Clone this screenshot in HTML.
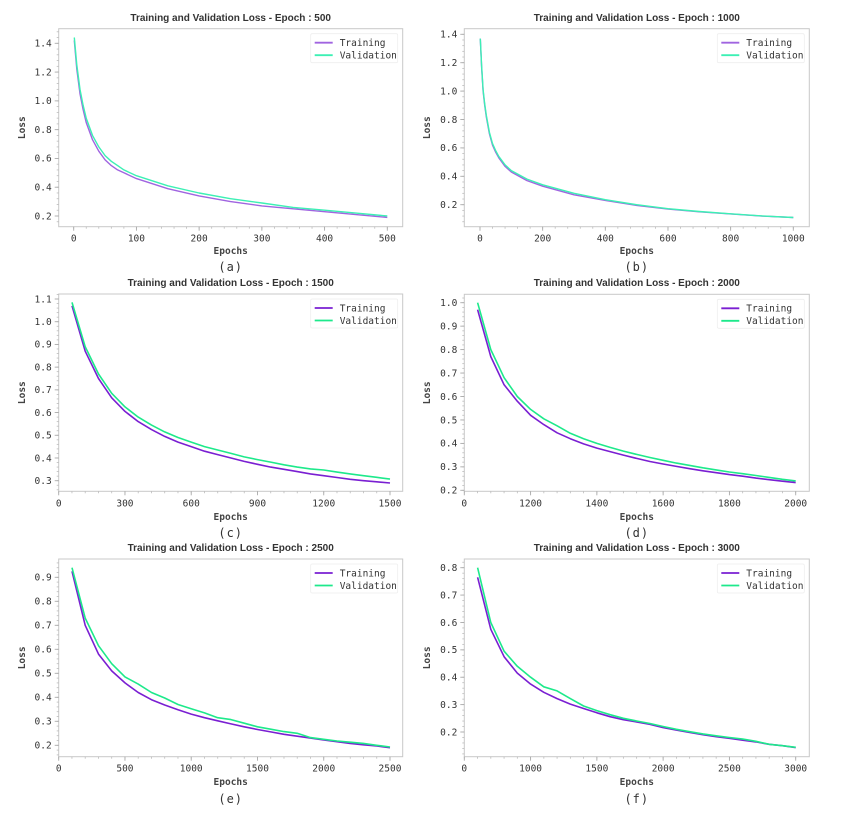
<!DOCTYPE html>
<html><head><meta charset="utf-8"><style>
html,body{margin:0;padding:0;background:#fff;}
svg{display:block;}
.tick{font-family:"DejaVu Sans Mono","Liberation Mono",monospace;font-size:9.5px;fill:#333;}
.title{font-family:"Liberation Sans",sans-serif;font-size:10px;font-weight:bold;fill:#333;}
.axl{font-family:"DejaVu Sans Mono","Liberation Mono",monospace;font-size:9.5px;font-weight:bold;fill:#444;}
.leg{font-family:"DejaVu Sans Mono","Liberation Mono",monospace;font-size:9.5px;fill:#333;}
.sub{font-family:"DejaVu Sans Mono","Liberation Mono",monospace;font-size:12px;fill:#333;letter-spacing:1px;}
</style></head><body>
<svg id="chart" width="846" height="816" viewBox="0 0 846 816"></svg>
<script>
// ---- data ----
const aEpochs=[1,5,10,15,20,30,40,50,60,70,80,100,150,200,250,300,350,400,450,500];
const aTrain=[1.42,1.22,1.05,0.94,0.85,0.73,0.65,0.59,0.55,0.52,0.50,0.46,0.39,0.34,0.30,0.27,0.25,0.23,0.21,0.19];
const aVal=[1.44,1.25,1.08,0.97,0.88,0.76,0.68,0.62,0.58,0.55,0.52,0.48,0.41,0.36,0.32,0.29,0.26,0.24,0.22,0.20];
const aXTicks=[0,100,200,300,400,500];
const aXLabels=["0","100","200","300","400","500"];
const aYTicks=[0.2,0.4,0.6,0.8,1.0,1.2,1.4];

const bEpochs=[1,5,10,15,20,30,40,50,60,80,100,150,200,300,400,500,600,700,800,900,1000];
const bTrain=[1.37,1.17,1.0,0.9,0.82,0.70,0.62,0.57,0.53,0.47,0.43,0.37,0.33,0.27,0.23,0.195,0.17,0.15,0.135,0.12,0.11];
const bVal=[1.37,1.18,1.01,0.91,0.83,0.71,0.63,0.58,0.54,0.48,0.44,0.38,0.34,0.28,0.235,0.2,0.172,0.152,0.136,0.121,0.11];
const bXTicks=[0,200,400,600,800,1000];
const bXLabels=["0","200","400","600","800","1000"];
const bYTicks=[0.2,0.4,0.6,0.8,1.0,1.2,1.4];

const cEpochs=[60,120,180,240,300,360,420,480,540,600,660,720,780,840,900,960,1020,1080,1140,1200,1260,1320,1380,1440,1500];
const cTrain=[1.07,0.87,0.75,0.665,0.605,0.56,0.525,0.495,0.47,0.45,0.43,0.415,0.40,0.385,0.372,0.36,0.35,0.34,0.33,0.322,0.314,0.306,0.30,0.295,0.29];
const cVal=[1.085,0.89,0.77,0.685,0.625,0.58,0.545,0.515,0.49,0.47,0.45,0.435,0.42,0.405,0.393,0.382,0.37,0.36,0.352,0.347,0.338,0.33,0.322,0.315,0.307];
const cXTicks=[0,300,600,900,1200,1500];
const cXLabels=["0","300","600","900","1200","1500"];
const cYTicks=[0.3,0.4,0.5,0.6,0.7,0.8,0.9,1.0,1.1];

const dEpochs=[1040,1080,1120,1160,1200,1240,1280,1320,1360,1400,1440,1480,1520,1560,1600,1640,1680,1720,1760,1800,1840,1880,1920,1960,2000];
const dTrain=[0.97,0.77,0.65,0.58,0.52,0.48,0.445,0.42,0.398,0.38,0.365,0.35,0.336,0.323,0.312,0.302,0.292,0.283,0.275,0.267,0.26,0.252,0.245,0.239,0.233];
const dVal=[1.0,0.80,0.68,0.60,0.545,0.505,0.475,0.443,0.42,0.40,0.383,0.367,0.353,0.34,0.328,0.316,0.306,0.296,0.287,0.278,0.271,0.263,0.255,0.247,0.24];
const dXTicks=[1000,1200,1400,1600,1800,2000];
const dXLabels=["0","1200","1400","1600","1800","2000"];
const dYTicks=[0.2,0.3,0.4,0.5,0.6,0.7,0.8,0.9,1.0];

const eEpochs=[100,200,300,400,500,600,700,800,900,1000,1100,1200,1300,1400,1500,1600,1700,1800,1900,2000,2100,2200,2300,2400,2500];
const eTrain=[0.925,0.70,0.58,0.51,0.46,0.42,0.39,0.368,0.348,0.33,0.315,0.302,0.289,0.277,0.266,0.256,0.246,0.238,0.23,0.222,0.215,0.208,0.202,0.197,0.19];
const eVal=[0.94,0.73,0.615,0.54,0.485,0.455,0.42,0.397,0.37,0.352,0.335,0.315,0.307,0.292,0.277,0.267,0.257,0.25,0.232,0.225,0.218,0.213,0.208,0.2,0.193];
const eXTicks=[0,500,1000,1500,2000,2500];
const eXLabels=["0","500","1000","1500","2000","2500"];
const eYTicks=[0.2,0.3,0.4,0.5,0.6,0.7,0.8,0.9];

const fEpochs=[600,700,800,900,1000,1100,1200,1300,1400,1500,1600,1700,1800,1900,2000,2100,2200,2300,2400,2500,2600,2700,2800,2900,3000];
const fTrain=[0.765,0.575,0.475,0.415,0.375,0.345,0.322,0.302,0.286,0.27,0.256,0.245,0.237,0.228,0.216,0.207,0.198,0.19,0.183,0.177,0.17,0.164,0.155,0.15,0.143];
const fVal=[0.80,0.60,0.495,0.44,0.40,0.365,0.35,0.322,0.295,0.278,0.263,0.25,0.24,0.231,0.22,0.21,0.201,0.193,0.186,0.18,0.174,0.166,0.155,0.15,0.144];
const fXTicks=[500,1000,1500,2000,2500,3000];
const fXLabels=["0","1000","1500","2000","2500","3000"];
const fYTicks=[0.2,0.3,0.4,0.5,0.6,0.7,0.8];

const NS="http://www.w3.org/2000/svg";
const svg=document.getElementById('chart');
function mk(tag,attrs,parent){const e=document.createElementNS(NS,tag);for(const k in attrs)e.setAttribute(k,attrs[k]);(parent||svg).appendChild(e);return e;}

const panels=[
 {id:'a',title:'Training and Validation Loss - Epoch : 500',ep:aEpochs,tr:aTrain,va:aVal,xt:aXTicks,xl:aXLabels,yt:aYTicks,
  fr:[58.7,28.7,402.7,226.7],x0:0,px0:73.7,x1:500,px1:387.3,y0:0.2,py0:216,y1:1.4,py1:43.3,dec:1,titleY:21,ylabX:25,epY:254,subY:271,tc:'#a064e0',vc:'#3cf0b4',lw:1.4},
 {id:'b',title:'Training and Validation Loss - Epoch : 1000',ep:bEpochs,tr:bTrain,va:bVal,xt:bXTicks,xl:bXLabels,yt:bYTicks,
  fr:[464.3,28.7,809.3,226.7],x0:0,px0:480,x1:1000,px1:793.3,y0:0.2,py0:204.7,y1:1.4,py1:34.3,dec:1,titleY:21,ylabX:430,epY:254,subY:271,tc:'#a064e0',vc:'#3cf0b4',lw:1.4},
 {id:'c',title:'Training and Validation Loss - Epoch : 1500',ep:cEpochs,tr:cTrain,va:cVal,xt:cXTicks,xl:cXLabels,yt:cYTicks,
  fr:[58.7,294,402.7,491.3],x0:0,px0:58.7,x1:1500,px1:390,y0:0.3,py0:480.7,y1:1.1,py1:299,dec:1,titleY:286,ylabX:25,epY:520,subY:537,tc:'#7a1fd2',vc:'#1de98b',lw:1.6},
 {id:'d',title:'Training and Validation Loss - Epoch : 2000',ep:dEpochs,tr:dTrain,va:dVal,xt:dXTicks,xl:dXLabels,yt:dYTicks,
  fr:[464.3,294.3,809.3,491.3],x0:1000,px0:464.3,x1:2000,px1:795.7,y0:0.2,py0:490.3,y1:1.0,py1:302.7,dec:1,titleY:286,ylabX:430,epY:520,subY:537,tc:'#7a1fd2',vc:'#1de98b',lw:1.6},
 {id:'e',title:'Training and Validation Loss - Epoch : 2500',ep:eEpochs,tr:eTrain,va:eVal,xt:eXTicks,xl:eXLabels,yt:eYTicks,
  fr:[58.7,559,402.7,756.7],x0:0,px0:58.7,x1:2500,px1:390,y0:0.2,py0:745.3,y1:0.9,py1:577.3,dec:1,titleY:551,ylabX:25,epY:785,subY:803,tc:'#7a1fd2',vc:'#1de98b',lw:1.6},
 {id:'f',title:'Training and Validation Loss - Epoch : 3000',ep:fEpochs,tr:fTrain,va:fVal,xt:fXTicks,xl:fXLabels,yt:fYTicks,
  fr:[464.3,559,809.3,756.7],x0:500,px0:464.3,x1:3000,px1:795.7,y0:0.2,py0:732,y1:0.8,py1:567.7,dec:1,titleY:551,ylabX:430,epY:785,subY:803,tc:'#7a1fd2',vc:'#1de98b',lw:1.6}
];

panels.forEach(p=>{
  const g=mk('g',{});
  
  
  const X=v=>p.px0+(v-p.x0)*(p.px1-p.px0)/(p.x1-p.x0);
  const Y=v=>p.py0+(v-p.y0)*(p.py1-p.py0)/(p.y1-p.y0);
  const [l,t,r,b]=p.fr;
  const cx=(l+r)/2;
  const title=mk('text',{x:cx,y:p.titleY,'text-anchor':'middle',class:'title'},g);
  title.textContent=p.title;
  
  
  const frame=mk('rect',{x:l,y:t,width:r-l,height:b-t,fill:'#fff',stroke:'#c8c8c8','stroke-width':1},g);
  
  
  const xs=(p.xt[1]-p.xt[0])/5;
  for(let v=p.x0;v<=p.x1+1e-6;v+=xs){const px=X(v);if(px<l-0.5||px>r+0.5)continue;mk('line',{x1:px,y1:b,x2:px,y2:b+2,stroke:'#bbb','stroke-width':0.8},g);}
  const ys=(p.yt[1]-p.yt[0])/5;
  for(let v=p.yt[0]-ys*5;v<=p.yt[p.yt.length-1]+ys*5;v+=ys){const py=Y(v);if(py<t||py>b)continue;mk('line',{x1:l-2,y1:py,x2:l,y2:py,stroke:'#bbb','stroke-width':0.8},g);}
  p.xt.forEach((v,i)=>{
    const px=X(v);
    mk('line',{x1:px,y1:b,x2:px,y2:b+4,stroke:'#aaa','stroke-width':0.9},g);
    const tx=mk('text',{x:px,y:b+15,'text-anchor':'middle',class:'tick'},g);
    tx.textContent=p.xl[i];
    
    
  });
  p.yt.forEach(v=>{
    const py=Y(v);
    mk('line',{x1:l-4,y1:py,x2:l,y2:py,stroke:'#aaa','stroke-width':0.9},g);
    const ty=mk('text',{x:l-7,y:py+3.3,'text-anchor':'end',class:'tick'},g);
    ty.textContent=v.toFixed(p.dec);
    
    
  });
  const ep=mk('text',{x:cx,y:p.epY,'text-anchor':'middle',class:'axl'},g);
  ep.textContent='Epochs';
  
  
  const ly=(t+b)/2;
  const yl=mk('text',{x:p.ylabX,y:ly,'text-anchor':'middle',class:'axl',transform:'rotate(-90 '+p.ylabX+' '+ly+')'},g);
  yl.textContent='Loss';
  
  
  const sub=mk('text',{x:cx,y:p.subY,'text-anchor':'middle',class:'sub'},g);
  sub.textContent='('+p.id+')';
  
  
  const ptsT=p.ep.map((e,i)=>X(e).toFixed(1)+','+Y(p.tr[i]).toFixed(1)).join(' ');
  const ptsV=p.ep.map((e,i)=>X(e).toFixed(1)+','+Y(p.va[i]).toFixed(1)).join(' ');
  const lt=mk('polyline',{points:ptsT,fill:'none',stroke:p.tc,'stroke-width':p.lw,'stroke-linejoin':'round'},g);
  
  
  const lv=mk('polyline',{points:ptsV,fill:'none',stroke:p.vc,'stroke-width':p.lw,'stroke-linejoin':'round'},g);
  
  
  const lx=r-92, lyy=t+5;
  const leg=mk('g',{},g);
  
  
  mk('rect',{x:lx,y:lyy,width:87,height:29,fill:'#fff',stroke:'#eee','stroke-width':0.8,rx:1.5},leg);
  [[p.tc,'Training',9],[p.vc,'Validation',21.5]].forEach(([c,txt,dy])=>{
    const e=mk('g',{},leg);
    
    
    mk('line',{x1:lx+4,y1:lyy+dy,x2:lx+22,y2:lyy+dy,stroke:c,'stroke-width':1.8},e);
    const tt=mk('text',{x:lx+29,y:lyy+dy+3.3,class:'leg'},e);
    tt.textContent=txt;
  });
});
</script>
</body></html>
